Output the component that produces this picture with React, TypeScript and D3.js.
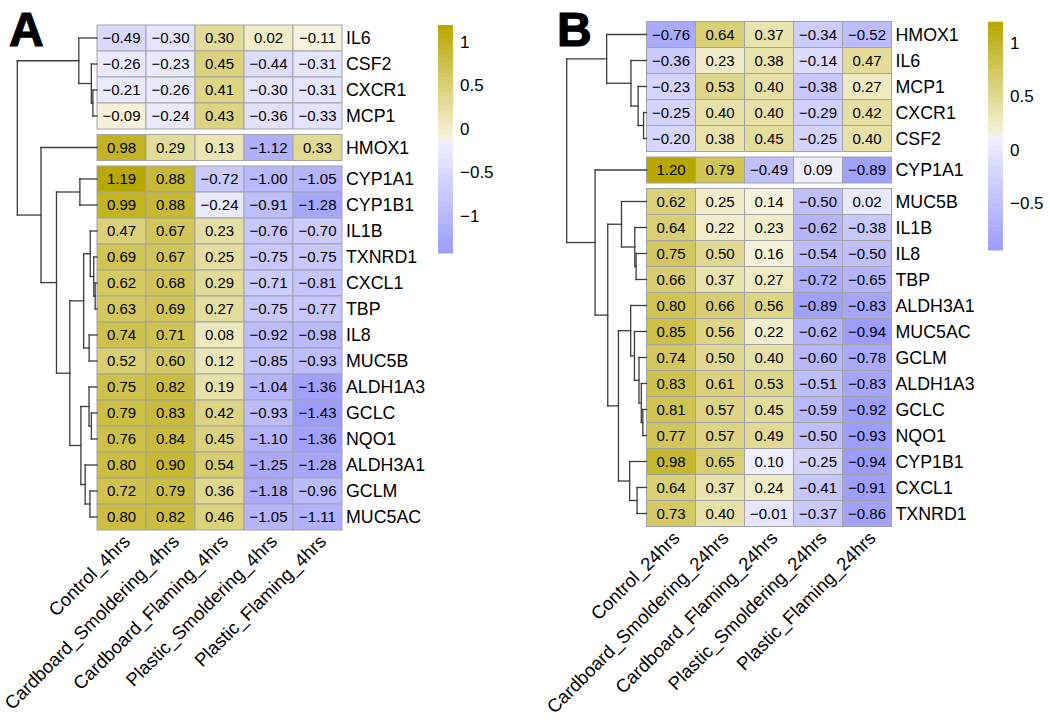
import * as d3 from "d3";
import React, { useEffect, useRef } from "react";

// ---- data ----
const COLS_A = [
  "Control_4hrs",
  "Cardboard_Smoldering_4hrs",
  "Cardboard_Flaming_4hrs",
  "Plastic_Smoldering_4hrs",
  "Plastic_Flaming_4hrs",
];
const GENES_A = [
  "IL6", "CSF2", "CXCR1", "MCP1", "HMOX1", "CYP1A1", "CYP1B1", "IL1B", "TXNRD1",
  "CXCL1", "TBP", "IL8", "MUC5B", "ALDH1A3", "GCLC", "NQO1", "ALDH3A1", "GCLM", "MUC5AC",
];
const VALUES_A = [
  [-0.49, -0.3, 0.3, 0.02, -0.11],
  [-0.26, -0.23, 0.45, -0.44, -0.31],
  [-0.21, -0.26, 0.41, -0.3, -0.31],
  [-0.09, -0.24, 0.43, -0.36, -0.33],
  [0.98, 0.29, 0.13, -1.12, 0.33],
  [1.19, 0.88, -0.72, -1.0, -1.05],
  [0.99, 0.88, -0.24, -0.91, -1.28],
  [0.47, 0.67, 0.23, -0.76, -0.7],
  [0.69, 0.67, 0.25, -0.75, -0.75],
  [0.62, 0.68, 0.29, -0.71, -0.81],
  [0.63, 0.69, 0.27, -0.75, -0.77],
  [0.74, 0.71, 0.08, -0.92, -0.98],
  [0.52, 0.6, 0.12, -0.85, -0.93],
  [0.75, 0.82, 0.19, -1.04, -1.36],
  [0.79, 0.83, 0.42, -0.93, -1.43],
  [0.76, 0.84, 0.45, -1.1, -1.36],
  [0.8, 0.9, 0.54, -1.25, -1.28],
  [0.72, 0.79, 0.36, -1.18, -0.96],
  [0.8, 0.82, 0.46, -1.05, -1.11],
];
const GAPS_A = [4, 5];
const TICKS_A = [1, 0.5, 0, -0.5, -1];

const COLS_B = [
  "Control_24hrs",
  "Cardboard_Smoldering_24hrs",
  "Cardboard_Flaming_24hrs",
  "Plastic_Smoldering_24hrs",
  "Plastic_Flaming_24hrs",
];
const GENES_B = [
  "HMOX1", "IL6", "MCP1", "CXCR1", "CSF2", "CYP1A1", "MUC5B", "IL1B", "IL8", "TBP",
  "ALDH3A1", "MUC5AC", "GCLM", "ALDH1A3", "GCLC", "NQO1", "CYP1B1", "CXCL1", "TXNRD1",
];
const VALUES_B = [
  [-0.76, 0.64, 0.37, -0.34, -0.52],
  [-0.36, 0.23, 0.38, -0.14, 0.47],
  [-0.23, 0.53, 0.4, -0.38, 0.27],
  [-0.25, 0.4, 0.4, -0.29, 0.42],
  [-0.2, 0.38, 0.45, -0.25, 0.4],
  [1.2, 0.79, -0.49, 0.09, -0.89],
  [0.62, 0.25, 0.14, -0.5, 0.02],
  [0.64, 0.22, 0.23, -0.62, -0.38],
  [0.75, 0.5, 0.16, -0.54, -0.5],
  [0.66, 0.37, 0.27, -0.72, -0.65],
  [0.8, 0.66, 0.56, -0.89, -0.83],
  [0.85, 0.56, 0.22, -0.62, -0.94],
  [0.74, 0.5, 0.4, -0.6, -0.78],
  [0.83, 0.61, 0.53, -0.51, -0.83],
  [0.81, 0.57, 0.45, -0.59, -0.92],
  [0.77, 0.57, 0.49, -0.5, -0.93],
  [0.98, 0.65, 0.1, -0.25, -0.94],
  [0.64, 0.37, 0.24, -0.41, -0.91],
  [0.73, 0.4, -0.01, -0.37, -0.86],
];
const GAPS_B = [5, 6];
const TICKS_B = [1, 0.5, 0, -0.5];

// ---- look ----
const LOW = "#9c9cfd";
const LOW_MID = "#f1f1ff";
const HIGH_MID = "#f7f4df";
const HIGH = "#b8a700";
const CELL_W = 49;
const ROW_H = 26;
const GAP = 5.5;
const FONT = "'Liberation Sans', Arial, Helvetica, sans-serif";

interface PanelCfg {
  letter: string;
  letterX: number;
  heatLeft: number;
  heatTop: number;
  treeLeft: number;
  legendX: number;
  legendTop: number;
  legendBottom: number;
}

type TreeNode = { height: number; leaf?: number; kids?: [TreeNode, TreeNode]; y?: number };

// complete-linkage, euclidean (pheatmap default)
function hclust(m: number[][]): TreeNode {
  const D = m.map((a) => m.map((b) => Math.sqrt(d3.sum(a, (v, k) => (v - b[k]) ** 2))));
  let cl = m.map((_, i) => ({ node: { height: 0, leaf: i } as TreeNode, members: [i] }));
  while (cl.length > 1) {
    let best = Infinity, bi = 0, bj = 1;
    for (let i = 0; i < cl.length; i++)
      for (let j = i + 1; j < cl.length; j++) {
        let d = 0;
        for (const p of cl[i].members) for (const q of cl[j].members) d = Math.max(d, D[p][q]);
        if (d < best) { best = d; bi = i; bj = j; }
      }
    const merged = {
      node: { height: best, kids: [cl[bi].node, cl[bj].node] } as TreeNode,
      members: [...cl[bi].members, ...cl[bj].members],
    };
    cl = cl.filter((_, k) => k !== bi && k !== bj);
    cl.push(merged);
  }
  return cl[0].node;
}

function colorFor(min: number, max: number) {
  const mid = (min + max) / 2;
  const lo = d3.scaleLinear<string>().domain([min, mid]).range([LOW, LOW_MID]).interpolate(d3.interpolateRgb);
  const hi = d3.scaleLinear<string>().domain([mid, max]).range([HIGH_MID, HIGH]).interpolate(d3.interpolateRgb);
  return (v: number) => (v < mid ? lo(v) : hi(v));
}

const fmt = (v: number) => d3.format(".2f")(v).replace("-", "\u2212");

function drawPanel(
  svg: d3.Selection<SVGSVGElement, unknown, null, undefined>,
  cfg: PanelCfg,
  cols: string[],
  genes: string[],
  values: number[][],
  gaps: number[],
  ticks: number[],
) {
  const g = svg.append("g");
  const all = values.flat();
  const [min, max] = d3.extent(all) as [number, number];
  const color = colorFor(min, max);

  const x = d3.scaleBand().domain(cols).range([cfg.heatLeft, cfg.heatLeft + cols.length * CELL_W]);
  const rowTop = (i: number) => cfg.heatTop + i * ROW_H + gaps.filter((gp) => i >= gp).length * GAP;
  const rowMid = (i: number) => rowTop(i) + ROW_H / 2;
  const heatBottom = rowTop(genes.length - 1) + ROW_H;

  // panel letter
  g.append("text")
    .attr("x", cfg.letterX)
    .attr("y", 46)
    .attr("font-family", FONT)
    .attr("font-weight", 700)
    .attr("font-size", 48)
    .attr("stroke", "#000")
    .attr("stroke-width", 1.2)
    .text(cfg.letter);

  // cells
  const cells = values.flatMap((row, i) => row.map((v, j) => ({ i, j, v })));
  g.selectAll(".cell")
    .data(cells)
    .join("rect")
    .attr("x", (d) => x(cols[d.j])!)
    .attr("y", (d) => rowTop(d.i))
    .attr("width", x.bandwidth())
    .attr("height", ROW_H)
    .attr("fill", (d) => color(d.v))
    .attr("stroke", "#a3a3a3")
    .attr("stroke-width", 1);

  g.selectAll(".num")
    .data(cells)
    .join("text")
    .attr("x", (d) => x(cols[d.j])! + x.bandwidth() / 2)
    .attr("y", (d) => rowMid(d.i))
    .attr("dy", "0.36em")
    .attr("text-anchor", "middle")
    .attr("font-family", FONT)
    .attr("font-size", 15)
    .attr("fill", "#000")
    .text((d) => fmt(d.v));

  // row labels
  g.selectAll(".rlab")
    .data(genes)
    .join("text")
    .attr("x", cfg.heatLeft + cols.length * CELL_W + 4)
    .attr("y", (_, i) => rowMid(i))
    .attr("dy", "0.36em")
    .attr("font-family", FONT)
    .attr("font-size", 17.8)
    .text((d) => d);

  // column labels, 45 degrees
  g.selectAll(".clab")
    .data(cols)
    .join("text")
    .attr("transform", (d) => `translate(${x(d)! + x.bandwidth() / 2},${heatBottom + 3}) rotate(-45)`)
    .attr("dy", "0.74em")
    .attr("text-anchor", "end")
    .attr("font-family", FONT)
    .attr("font-size", 18.5)
    .text((d) => d);

  // row dendrogram
  const tree = hclust(values);
  const layout = (n: TreeNode): number => {
    n.y = n.kids ? (layout(n.kids[0]) + layout(n.kids[1])) / 2 : rowMid(n.leaf!);
    return n.y;
  };
  layout(tree);
  const hx = d3.scaleLinear().domain([0, tree.height]).range([cfg.heatLeft, cfg.treeLeft]);
  const segs: [number, number, number, number][] = [];
  const walk = (n: TreeNode) => {
    if (!n.kids) return;
    const [a, b] = n.kids;
    segs.push([hx(n.height), a.y!, hx(n.height), b.y!]);
    segs.push([hx(n.height), a.y!, hx(a.height), a.y!]);
    segs.push([hx(n.height), b.y!, hx(b.height), b.y!]);
    walk(a);
    walk(b);
  };
  walk(tree);
  g.selectAll(".seg")
    .data(segs)
    .join("line")
    .attr("x1", (d) => d[0])
    .attr("y1", (d) => d[1])
    .attr("x2", (d) => d[2])
    .attr("y2", (d) => d[3])
    .attr("stroke", "#3c3c3c")
    .attr("stroke-width", 1.3)
    .attr("stroke-linecap", "square");

  // legend
  const ly = d3.scaleLinear().domain([min, max]).range([cfg.legendBottom, cfg.legendTop]);
  const N = 48;
  const bands = d3.range(N).map((k) => min + ((k + 0.5) * (max - min)) / N);
  const bandH = (cfg.legendBottom - cfg.legendTop) / N;
  g.selectAll(".band")
    .data(bands)
    .join("rect")
    .attr("x", cfg.legendX)
    .attr("y", (d) => ly(d) - bandH / 2)
    .attr("width", 15)
    .attr("height", bandH + 0.5)
    .attr("fill", (d) => color(d));
  g.selectAll(".tick")
    .data(ticks)
    .join("text")
    .attr("x", cfg.legendX + 22)
    .attr("y", (d) => ly(d))
    .attr("dy", "0.36em")
    .attr("font-family", FONT)
    .attr("font-size", 17)
    .text((d) => String(d).replace("-", "\u2212"));
}

const App: React.FC = () => {
  const svgRef = useRef<SVGSVGElement>(null);

  useEffect(() => {
    if (!svgRef.current) return;
    const svg = d3.select(svgRef.current);
    svg.selectAll("*").remove();
    drawPanel(
      svg,
      { letter: "A", letterX: 9, heatLeft: 97, heatTop: 25, treeLeft: 17.3, legendX: 438, legendTop: 25, legendBottom: 253 },
      COLS_A, GENES_A, VALUES_A, GAPS_A, TICKS_A,
    );
    drawPanel(
      svg,
      { letter: "B", letterX: 557, heatLeft: 646.5, heatTop: 21.5, treeLeft: 566.7, legendX: 988, legendTop: 21.7, legendBottom: 250 },
      COLS_B, GENES_B, VALUES_B, GAPS_B, TICKS_B,
    );
  }, []);

  return (
    <svg
      ref={svgRef}
      width={1050}
      height={720}
      style={{ position: "absolute", left: 0, top: 0, background: "#fff" }}
    />
  );
};

export default App;
